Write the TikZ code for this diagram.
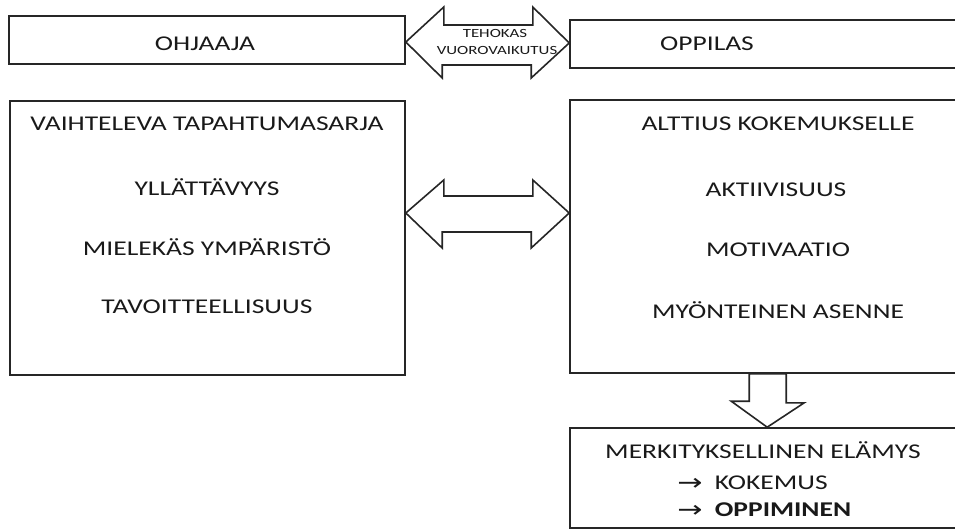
\documentclass[tikz,border=0pt]{standalone}
\usepackage{fontspec}
\setmainfont{Carlito}
\newfontfamily\symfont{DejaVu Sans}
\usetikzlibrary{calc}
\tikzset{
  box/.style={draw=black!85, line width=1.6pt, rectangle, inner sep=0pt, fill=none},
  fat/.style={draw=black!85, line width=1.6pt, line join=miter, fill=white},
  txt/.style={font=\fontsize{21}{25}\selectfont, xscale=1.31, inner sep=0pt, text=black!90},
  small/.style={font=\fontsize{12.5}{15}\selectfont, xscale=1.35, inner sep=0pt, text=black!90},
}
\newcommand{\rarr}{{\symfont\fontsize{23}{28}\selectfont\raisebox{-0.5pt}{→}}\hspace{0.45em}}
\begin{document}
\begin{tikzpicture}[x=1pt,y=-1pt]
\useasboundingbox (0,0) rectangle (955,530);
\clip (0,0) rectangle (955,530);
% boxes
\node[box, minimum width=396pt, minimum height=48pt] (ohj) at (207,40) {};
\node[box, minimum width=390pt, minimum height=48pt] (opp) at (765,44) {};
\node[box, minimum width=395pt, minimum height=274pt] (lbox) at (207.5,238) {};
\node[box, minimum width=390pt, minimum height=273pt] (rbox) at (765,236.5) {};
\node[box, minimum width=390pt, minimum height=100pt] (res) at (765,478) {};
% top double arrow
\draw[fat] ($(ohj.east)+(0,2)$) -- ++(38,-35) -- ++(0,18) -- ++(89,0) -- ++(0,-18)
  -- ($(opp.west)+(0,-1)$) -- ++(-38,35) -- ++(0,-13) -- ++(-89,0) -- ++(0,13) -- cycle;
% middle double arrow
\draw[fat] ($(lbox.east)+(0,-25)$) -- ++(38,-33) -- ++(0,16) -- ++(89,0) -- ++(0,-16)
  -- ($(rbox.west)+(0,-23.5)$) -- ++(-38,35) -- ++(0,-16) -- ++(-89,0) -- ++(0,16) -- cycle;
% down arrow
\draw[fat] ($(rbox.south west)+(180,0)$) -- ++(37,0) -- ++(0,29) -- ++(18,0)
  -- ($(res.north west)+(198,0)$) -- ++(-36,-26) -- ++(18,0) -- cycle;
% texts
\node[txt] (t1) at (205,44) {OHJAAJA};
\node[txt] (t2) at (707,44) {OPPILAS};
\node[small] (t3) at (495,33) {TEHOKAS};
\node[small] (t4) at (497,50) {VUOROVAIKUTUS};
\node[txt] (l1) at (207,123.5) {VAIHTELEVA TAPAHTUMASARJA};
\node[txt] (l2) at (207,187) {YLLÄTTÄVYYS};
\node[txt] (l3) at (207,247) {MIELEKÄS YMPÄRISTÖ};
\node[txt] (l4) at (207,307) {TAVOITTEELLISUUS};
\node[txt] (r1) at (778,123.5) {ALTTIUS KOKEMUKSELLE};
\node[txt] (r2) at (776,190) {AKTIIVISUUS};
\node[txt] (r3) at (778,250) {MOTIVAATIO};
\node[txt] (r4) at (778,310) {MYÖNTEINEN ASENNE};
\node[txt] (b1) at (763,450) {MERKITYKSELLINEN ELÄMYS};
\node[txt, anchor=west] (b2) at (677,483) {\rarr KOKEMUS};
\node[txt, anchor=west] (b3) at (677,510) {\rarr\textbf{OPPIMINEN}};
\end{tikzpicture}
\end{document}
